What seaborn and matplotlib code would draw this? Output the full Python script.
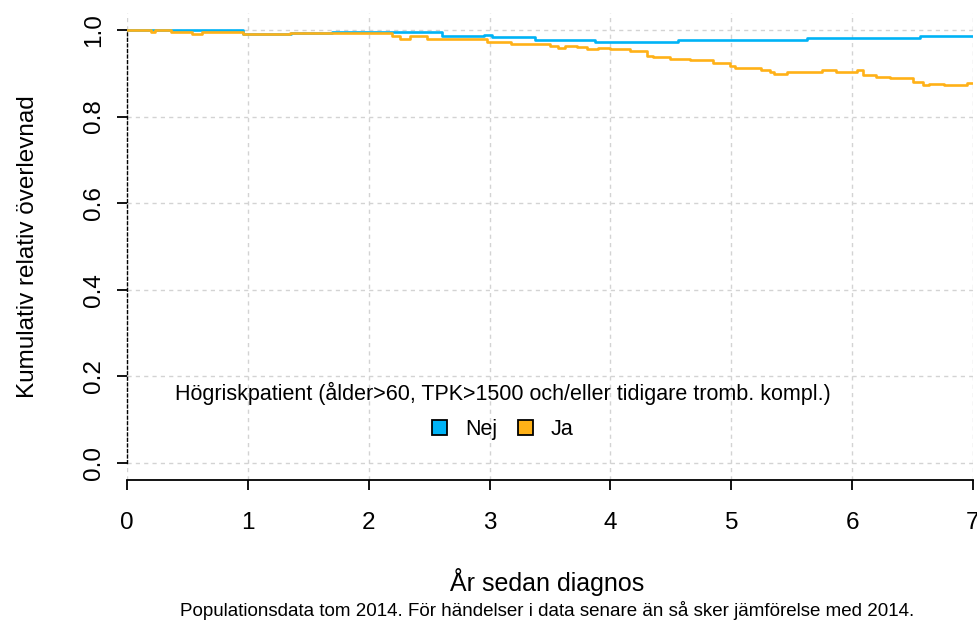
import matplotlib
matplotlib.use("Agg")
import matplotlib.pyplot as plt
from matplotlib.patches import Patch
import seaborn as sns
import pandas as pd

# ---- data ----
groups = ["Nej", "Ja"]
nej_t = [0, 0.96, 1.36, 1.70, 2.61, 2.95, 3.02, 3.38, 3.87, 4.56, 5.63, 6.56, 7.0]
nej_s = [1.0, 0.991, 0.992, 0.996, 0.985, 0.988, 0.983, 0.978, 0.973, 0.978, 0.981, 0.987, 0.987]
ja_t = [0, 0.20, 0.23, 0.36, 0.54, 0.62, 0.96, 1.35, 1.70, 2.19, 2.26, 2.34, 2.48,
        2.98, 3.18, 3.50, 3.57, 3.62, 3.72, 3.81, 3.90, 4.00, 4.16, 4.30, 4.35, 4.49,
        4.66, 4.85, 4.99, 5.03, 5.25, 5.32, 5.35, 5.46, 5.75, 5.87, 6.04, 6.09, 6.20,
        6.31, 6.50, 6.59, 6.64, 6.76, 6.95, 7.0]
ja_s = [1.0, 0.996, 1.0, 0.996, 0.990, 0.996, 0.990, 0.994, 0.992, 0.985, 0.980, 0.985, 0.980,
        0.973, 0.968, 0.964, 0.958, 0.964, 0.960, 0.956, 0.959, 0.955, 0.951, 0.941, 0.938, 0.933,
        0.930, 0.923, 0.917, 0.913, 0.907, 0.902, 0.898, 0.902, 0.907, 0.903, 0.907, 0.897, 0.892,
        0.888, 0.880, 0.872, 0.875, 0.872, 0.877, 0.877]
x_ticks = [0, 1, 2, 3, 4, 5, 6, 7]
y_ticks = [0.0, 0.2, 0.4, 0.6, 0.8, 1.0]
y_ticklabels = ["0.0", "0.2", "0.4", "0.6", "0.8", "1.0"]
colors = {"Nej": "#00b3f6", "Ja": "#ffb117"}

legend_title = "Högriskpatient (ålder>60, TPK>1500 och/eller tidigare tromb. kompl.)"
ylabel = "Kumulativ relativ överlevnad"
xlabel = "År sedan diagnos"
caption = "Populationsdata tom 2014. För händelser i data senare än så sker jämförelse med 2014."

df = pd.concat([
    pd.DataFrame({"t": nej_t, "s": nej_s, "grupp": "Nej"}),
    pd.DataFrame({"t": ja_t, "s": ja_s, "grupp": "Ja"}),
], ignore_index=True)

sns.set_theme(style="white")
plt.rcParams["font.family"] = ["Liberation Sans", "DejaVu Sans"]
plt.rcParams["text.color"] = "black"

fig = plt.figure(figsize=(9.78, 6.22), dpi=100)
ax = fig.add_axes([127 / 978, 1 - 480 / 622, 846 / 978, (480 - 12.7) / 622])

sns.lineplot(data=df, x="t", y="s", hue="grupp", hue_order=groups, palette=colors,
             estimator=None, sort=False, drawstyle="steps-post", linewidth=1.9,
             legend=False, ax=ax)

ax.set_xlim(0, 7)
ax.set_ylim(-0.04, 1.04)
ax.set_xticks(x_ticks)
ax.set_yticks(y_ticks)
ax.set_yticklabels(y_ticklabels)
ax.set_xlabel("")
ax.set_ylabel("")

ax.grid(True, color="#d3d3d3", linestyle=(0, (3, 3)), linewidth=1)
ax.set_axisbelow(True)

for side in ["top", "right"]:
    ax.spines[side].set_visible(False)
ax.spines["bottom"].set_bounds(0, 7)
ax.spines["bottom"].set_color("black")
ax.spines["bottom"].set_linewidth(1.3)
ax.spines["left"].set_bounds(0, 1)
ax.spines["left"].set_color("black")
ax.spines["left"].set_linewidth(1.0)
ax.spines["left"].set_linestyle((0, (2, 2)))

ax.tick_params(axis="both", direction="out", length=7, width=1.3, color="black",
               labelsize=17.5, labelcolor="black")
ax.tick_params(axis="x", pad=16, bottom=True)
ax.tick_params(axis="y", pad=9, labelrotation=90, left=True)
for lab in ax.get_yticklabels():
    lab.set_va("center")

handles = [Patch(facecolor=colors[g], edgecolor="black", linewidth=1.3) for g in groups]
leg = ax.legend(handles, groups, title=legend_title, ncol=2, frameon=False,
                loc="center", bbox_to_anchor=(0.444, 0.148), fontsize=15.5,
                title_fontsize=15.5, handlelength=0.7, handleheight=0.7,
                handletextpad=0.85, columnspacing=0.95, borderaxespad=0)
leg._legend_box.sep = 10

fig.text(547 / 978, 1 - 582 / 622, xlabel, ha="center", va="center", fontsize=18)
fig.text(28 / 978, 1 - 247 / 622, ylabel, ha="center", va="center", rotation=90, fontsize=17.5)
fig.text(547 / 978, 1 - 611 / 622, caption, ha="center", va="center", fontsize=13.5)

fig.savefig("out.png", dpi=100)
